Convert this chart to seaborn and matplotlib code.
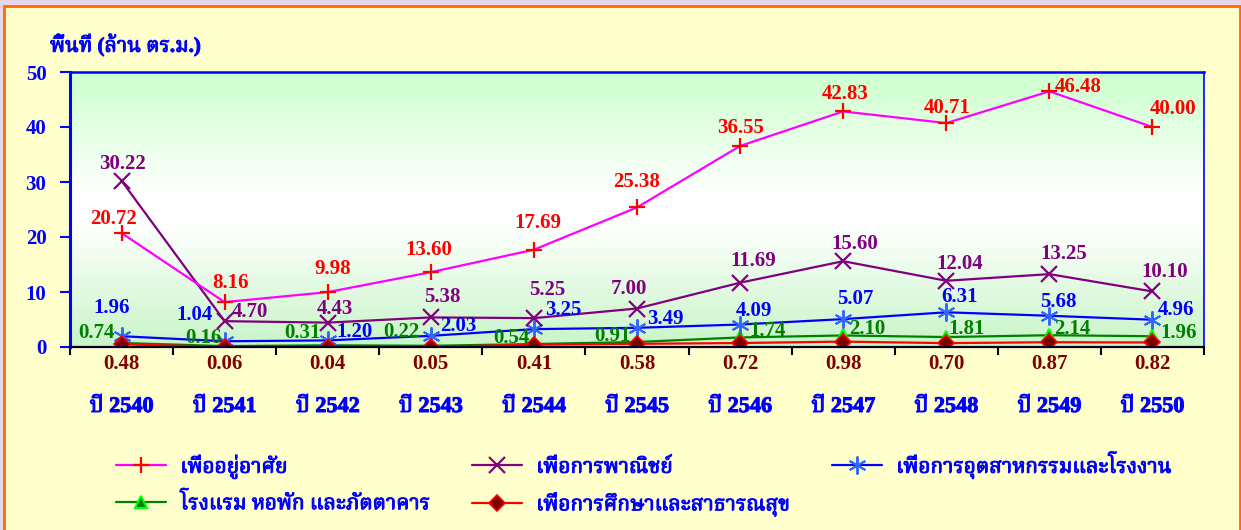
import numpy as np
import pandas as pd
import matplotlib
matplotlib.use('Agg')
import matplotlib.pyplot as plt
import matplotlib.patheffects as pe
from matplotlib import font_manager
from matplotlib.ft2font import FT2Font
from matplotlib.colors import LinearSegmentedColormap
from matplotlib.patches import Rectangle
import seaborn as sns

# data (million sq.m.)
years = ['ปี 2540', 'ปี 2541', 'ปี 2542', 'ปี 2543', 'ปี 2544', 'ปี 2545',
         'ปี 2546', 'ปี 2547', 'ปี 2548', 'ปี 2549', 'ปี 2550']
residential = [20.72, 8.16, 9.98, 13.60, 17.69, 25.38, 36.55, 42.83, 40.71, 46.48, 40.00]
commercial = [30.22, 4.70, 4.43, 5.38, 5.25, 7.00, 11.69, 15.60, 12.04, 13.25, 10.10]
industrial = [1.96, 1.04, 1.20, 2.03, 3.25, 3.49, 4.09, 5.07, 6.31, 5.68, 4.96]
hotel = [0.74, 0.16, 0.31, 0.22, 0.54, 0.91, 1.74, 2.10, 1.81, 2.14, 1.96]
education = [0.48, 0.06, 0.04, 0.05, 0.41, 0.58, 0.72, 0.98, 0.70, 0.87, 0.82]

names = ['เพื่ออยู่อาศัย', 'เพื่อการพาณิชย์', 'เพื่อการอุตสาหกรรมและโรงงาน',
         'โรงแรม หอพัก และภัตตาคาร', 'เพื่อการศึกษาและสาธารณสุข']


def find_thai_font():
    found = []
    for f in font_manager.fontManager.ttflist:
        try:
            cmap = FT2Font(f.fname).get_charmap()
        except Exception:
            continue
        if 0x0E1E in cmap and 0x0E35 in cmap:
            found.append(f.name)
    for pref in ['Serif Thai', 'Sarabun', 'Laksaman', 'Norasi', 'Thai']:
        for n in found:
            if pref in n:
                return n
    return found[0] if found else 'DejaVu Sans'


sns.set_style('white')
thai_font = find_thai_font()
plt.rcParams['font.family'] = ['Liberation Serif', thai_font]
plt.rcParams['font.weight'] = 'bold'

BLUE = '#0000FF'
# thai font has no bold face here, so thicken it a little
fat = [pe.withStroke(linewidth=0.7, foreground=BLUE)]

fig = plt.figure(figsize=(12.41, 5.30), dpi=100, facecolor='#E6D6E8')
fig.patches.append(Rectangle((4 / 1241, -0.02), 1236 / 1241, 524 / 530 + 0.02,
                             transform=fig.transFigure, facecolor='#FFFFCC',
                             edgecolor='#FF6A00', linewidth=2, zorder=-10))

ax = fig.add_axes([70 / 1241, 1 - 347 / 530, 1134 / 1241, 275 / 530])
ax.set_facecolor('none')

# gradient background of the plot area
cmap = LinearSegmentedColormap.from_list(
    'bg', [(0, '#C8F5C8'), (0.45, '#FFFFFF'), (0.55, '#FFFFFF'), (1, '#CCFFCC')])
grad = np.linspace(0, 1, 256).reshape(-1, 1)
ax.imshow(grad, extent=(0, 1, 0, 1), transform=ax.transAxes, aspect='auto',
          cmap=cmap, origin='lower', zorder=0)

pos = np.arange(len(years))
df = pd.DataFrame({'pos': pos, 'res': residential, 'com': commercial,
                   'ind': industrial, 'hot': hotel, 'edu': education})

styles = [
    ('res', '#FF00FF', '+', 12, '#FF0000', '#FF0000', 1.6),
    ('com', '#800080', 'x', 11, '#800080', '#800080', 1.6),
    ('ind', '#0000FF', (6, 2, 0), 13, '#3366FF', '#3366FF', 1.4),
    ('hot', '#008000', '^', 9, '#008000', '#00FF00', 1.5),
    ('edu', '#FF0000', 'D', 8, '#800000', '#FF0000', 1.2),
]
for (col, lc, mk, ms, mfc, mec, mew), name, z in zip(styles, names, [6, 5, 4, 3, 7]):
    sns.lineplot(data=df, x='pos', y=col, ax=ax, color=lc, marker=mk,
                 markersize=ms, markerfacecolor=mfc, markeredgecolor=mec,
                 markeredgewidth=mew, linewidth=1.6, label=name, zorder=z)
if ax.get_legend() is not None:
    ax.get_legend().remove()

# label offsets in pixels (dx, dy)
off_res = [(-8, 14), (6, 19), (5, 23), (-2, 22), (4, 27), (0, 25), (0, 18),
           (2, 17), (1, 15), (29, 4), (21, 18)]
off_com = [(1, 17), (25, 9), (7, 14), (12, 20), (13, 28), (-8, 19), (13, 22),
           (12, 17), (13, 17), (14, 20), (12, 19)]
off_ind = [(-10, 28), (-30, 26), (27, 8), (27, 10), (29, 19), (28, 9), (14, 14),
           (12, 20), (13, 15), (9, 14), (24, 10)]
off_hot = [(-25, 10), (-21, 8), (-25, 12), (-29, 14), (-23, 6), (-25, 6), (27, 6),
           (24, 6), (20, 8), (23, 6), (26, 3)]

for col, offs, color in [('res', off_res, '#FF0000'), ('com', off_com, '#800080'),
                         ('ind', off_ind, '#0000FF'), ('hot', off_hot, '#008000')]:
    for x, v, (dx, dy) in zip(pos, df[col], offs):
        ax.annotate(f'{v:.2f}', (x, v), xytext=(dx, dy), textcoords='offset pixels',
                    ha='center', va='center', color=color, fontsize=15,
                    fontweight='bold', zorder=10, annotation_clip=False)
for x, v in zip(pos, education):
    ax.annotate(f'{v:.2f}', (x, 0), xytext=(0, -17), textcoords='offset pixels',
                ha='center', va='center', color='#800000', fontsize=15,
                fontweight='bold', zorder=10, annotation_clip=False)

ax.set_xlim(-0.5, len(years) - 0.5)
ax.set_ylim(0, 50)
ax.set_xlabel('')
ax.set_ylabel('')
ax.set_yticks(range(0, 51, 10))
ax.set_xticks(pos)
ax.set_xticklabels(years)
ax.set_xticks(np.arange(-0.5, len(years), 1), minor=True)
ax.tick_params(axis='y', colors=BLUE, length=7, width=1.5, pad=10, labelsize=15,
               left=True)
ax.tick_params(axis='x', which='major', length=0, pad=36, labelsize=16,
               labelcolor=BLUE)
ax.tick_params(axis='x', which='minor', length=6, width=1.5, color='black',
               bottom=True)
for lab in ax.get_yticklabels() + ax.get_xticklabels():
    lab.set_fontweight('bold')
for lab in ax.get_xticklabels():
    lab.set_path_effects(fat)

ax.spines['left'].set_color(BLUE)
ax.spines['left'].set_linewidth(2.2)
ax.spines['top'].set_color(BLUE)
ax.spines['top'].set_linewidth(1.8)
ax.spines['right'].set_color(BLUE)
ax.spines['right'].set_linewidth(1.2)
ax.spines['bottom'].set_color('#000022')
ax.spines['bottom'].set_linewidth(1.6)
for s in ax.spines.values():
    s.set_zorder(8)

fig.text(50 / 1241, 1 - 45 / 530, 'พื้นที่ (ล้าน ตร.ม.)', ha='left', va='center',
         color=BLUE, fontsize=15, fontweight='bold', path_effects=fat)

h, l = ax.get_legend_handles_labels()
order = [0, 3, 1, 4, 2]
leg = fig.legend([h[i] for i in order], [l[i] for i in order], ncol=3,
                 loc='upper left', bbox_to_anchor=(97 / 1241, 1 - 432 / 530),
                 frameon=False, prop={'size': 15, 'weight': 'bold'},
                 labelcolor=BLUE, handlelength=2.4, handletextpad=0.7,
                 columnspacing=2.0, labelspacing=0.65)
for t in leg.get_texts():
    t.set_path_effects(fat)

fig.savefig('out.png', dpi=100, facecolor=fig.get_facecolor())
